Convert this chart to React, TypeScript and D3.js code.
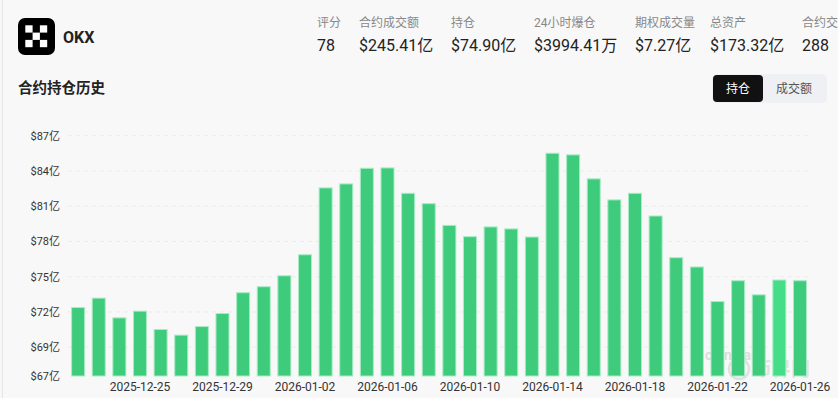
import React, { useRef, useEffect } from "react";
import * as d3 from "d3";

// daily open interest, in 亿 USD
const dates = [
  "2025-12-22", "2025-12-23", "2025-12-24", "2025-12-25", "2025-12-26", "2025-12-27",
  "2025-12-28", "2025-12-29", "2025-12-30", "2025-12-31", "2026-01-01", "2026-01-02",
  "2026-01-03", "2026-01-04", "2026-01-05", "2026-01-06", "2026-01-07", "2026-01-08",
  "2026-01-09", "2026-01-10", "2026-01-11", "2026-01-12", "2026-01-13", "2026-01-14",
  "2026-01-15", "2026-01-16", "2026-01-17", "2026-01-18", "2026-01-19", "2026-01-20",
  "2026-01-21", "2026-01-22", "2026-01-23", "2026-01-24", "2026-01-25", "2026-01-26",
];
const openInterest = [
  72.42, 73.22, 71.54, 72.11, 70.55, 70.07, 70.8, 71.91, 73.68, 74.19, 75.12, 76.91,
  82.6, 82.94, 84.27, 84.3, 82.14, 81.26, 79.41, 78.45, 79.28, 79.11, 78.42, 85.55,
  85.41, 83.37, 81.58, 82.14, 80.21, 76.66, 75.87, 72.93, 74.7, 73.5, 74.76, 74.7,
];
const yTicks = [66.55, 69, 72, 75, 78, 81, 84, 87];
const xTickDates = [
  "2025-12-25", "2025-12-29", "2026-01-02", "2026-01-06", "2026-01-10",
  "2026-01-14", "2026-01-18", "2026-01-22", "2026-01-26",
];
const highlighted = "2026-01-25";

const statLabels = ["评分", "合约成交额", "持仓", "24小时爆仓", "期权成交量", "总资产", "合约交易对"];
const statValues = ["78", "$245.41亿", "$74.90亿", "$3994.41万", "$7.27亿", "$173.32亿", "288"];
const statX = [317, 359, 451, 534, 635, 710, 802];

const W = 838;
const H = 398;
const FONT = "Roboto, 'Noto Sans CJK SC', sans-serif";

export default function App() {
  const ref = useRef<SVGSVGElement>(null);

  useEffect(() => {
    const svg = d3.select(ref.current);
    svg.selectAll("*").remove();

    svg.append("rect").attr("width", W).attr("height", H).attr("fill", "#f8f8f8");
    svg.append("line").attr("x1", 2.5).attr("x2", 2.5).attr("y1", 0).attr("y2", H)
      .attr("stroke", "#e6e6e6");

    // header: logo
    const logo = svg.append("g").attr("transform", "translate(18,18)");
    logo.append("rect").attr("width", 37).attr("height", 37).attr("rx", 7).attr("fill", "#000");
    [[0, 0], [2, 0], [1, 1], [0, 2], [2, 2]].forEach(([i, j]) => {
      logo.append("rect")
        .attr("x", 7.3 + i * 7.3).attr("y", 7.3 + j * 7.3)
        .attr("width", 7.3).attr("height", 7.3).attr("fill", "#fff");
    });
    svg.append("text").attr("x", 63).attr("y", 43).text("OKX")
      .attr("font-family", FONT).attr("font-size", 16).attr("font-weight", 700).attr("fill", "#222");

    // header stats
    statLabels.forEach((lab, i) => {
      svg.append("text").attr("x", statX[i]).attr("y", 27).text(lab)
        .attr("font-family", FONT).attr("font-size", 12).attr("fill", "#888");
      svg.append("text").attr("x", statX[i]).attr("y", 51).text(statValues[i])
        .attr("font-family", FONT).attr("font-size", 16).attr("fill", "#222");
    });

    svg.append("text").attr("x", 18).attr("y", 93).text("合约持仓历史")
      .attr("font-family", FONT).attr("font-size", 14.5).attr("font-weight", 700).attr("fill", "#222");

    // toggle buttons
    svg.append("rect").attr("x", 712).attr("y", 74).attr("width", 115).attr("height", 29)
      .attr("rx", 5).attr("fill", "#eef0f3");
    svg.append("rect").attr("x", 713).attr("y", 75).attr("width", 50).attr("height", 27)
      .attr("rx", 4).attr("fill", "#111");
    svg.append("text").attr("x", 738).attr("y", 93).attr("text-anchor", "middle").text("持仓")
      .attr("font-family", FONT).attr("font-size", 12).attr("fill", "#fff");
    svg.append("text").attr("x", 794).attr("y", 93).attr("text-anchor", "middle").text("成交额")
      .attr("font-family", FONT).attr("font-size", 12).attr("fill", "#555");

    // chart
    const x = d3.scaleBand<string>().domain(dates).range([67.8, 810.3])
      .paddingInner(0.32).paddingOuter(0.16);
    const y = d3.scaleLinear().domain([66.55, 87]).range([376, 135.7]);

    const grid = svg.append("g");
    yTicks.slice(1).forEach((t) => {
      grid.append("line").attr("x1", 67.8).attr("x2", 810.3)
        .attr("y1", y(t)).attr("y2", y(t))
        .attr("stroke", "#ebebeb").attr("stroke-dasharray", "4,4");
    });

    // watermark
    svg.append("text").attr("x", 705).attr("y", 360).text("coinglass")
      .attr("font-family", FONT).attr("font-size", 14).attr("font-weight", 700).attr("fill", "#dcdcdc");
    svg.append("circle").attr("cx", 739).attr("cy", 369).attr("r", 10)
      .attr("fill", "none").attr("stroke", "#e0e0e0").attr("stroke-width", 2.5);
    svg.append("text").attr("x", 753).attr("y", 376).text("币界网")
      .attr("font-family", FONT).attr("font-size", 19).attr("font-weight", 700).attr("fill", "#e2e2e2");

    svg.append("g").selectAll("rect").data(dates).join("rect")
      .attr("x", (d) => x(d)! + 0.5)
      .attr("y", (d, i) => y(openInterest[i]) + 0.5)
      .attr("width", x.bandwidth() - 1)
      .attr("height", (d, i) => 376 - y(openInterest[i]) - 0.5)
      .attr("fill", (d) => (d === highlighted ? "#45dd88" : "#3ecc7c"))
      .attr("stroke", "#a9ebc6")
      .attr("stroke-width", 1);

    // axes labels
    yTicks.forEach((t) => {
      svg.append("text").attr("x", 60).attr("y", y(t)).attr("dy", "0.35em")
        .attr("text-anchor", "end").text(`$${Math.round(t)}亿`)
        .attr("font-family", FONT).attr("font-size", 11).attr("fill", "#333");
    });
    xTickDates.forEach((d) => {
      svg.append("text").attr("x", x(d)! + x.bandwidth() / 2).attr("y", 387)
        .attr("dy", "0.35em").attr("text-anchor", "middle").text(d)
        .attr("font-family", FONT).attr("font-size", 12).attr("fill", "#333");
    });
  }, []);

  return (
    <div style={{ position: "fixed", left: 0, top: 0 }}>
      <svg ref={ref} width={W} height={H} style={{ display: "block" }}></svg>
    </div>
  );
}
